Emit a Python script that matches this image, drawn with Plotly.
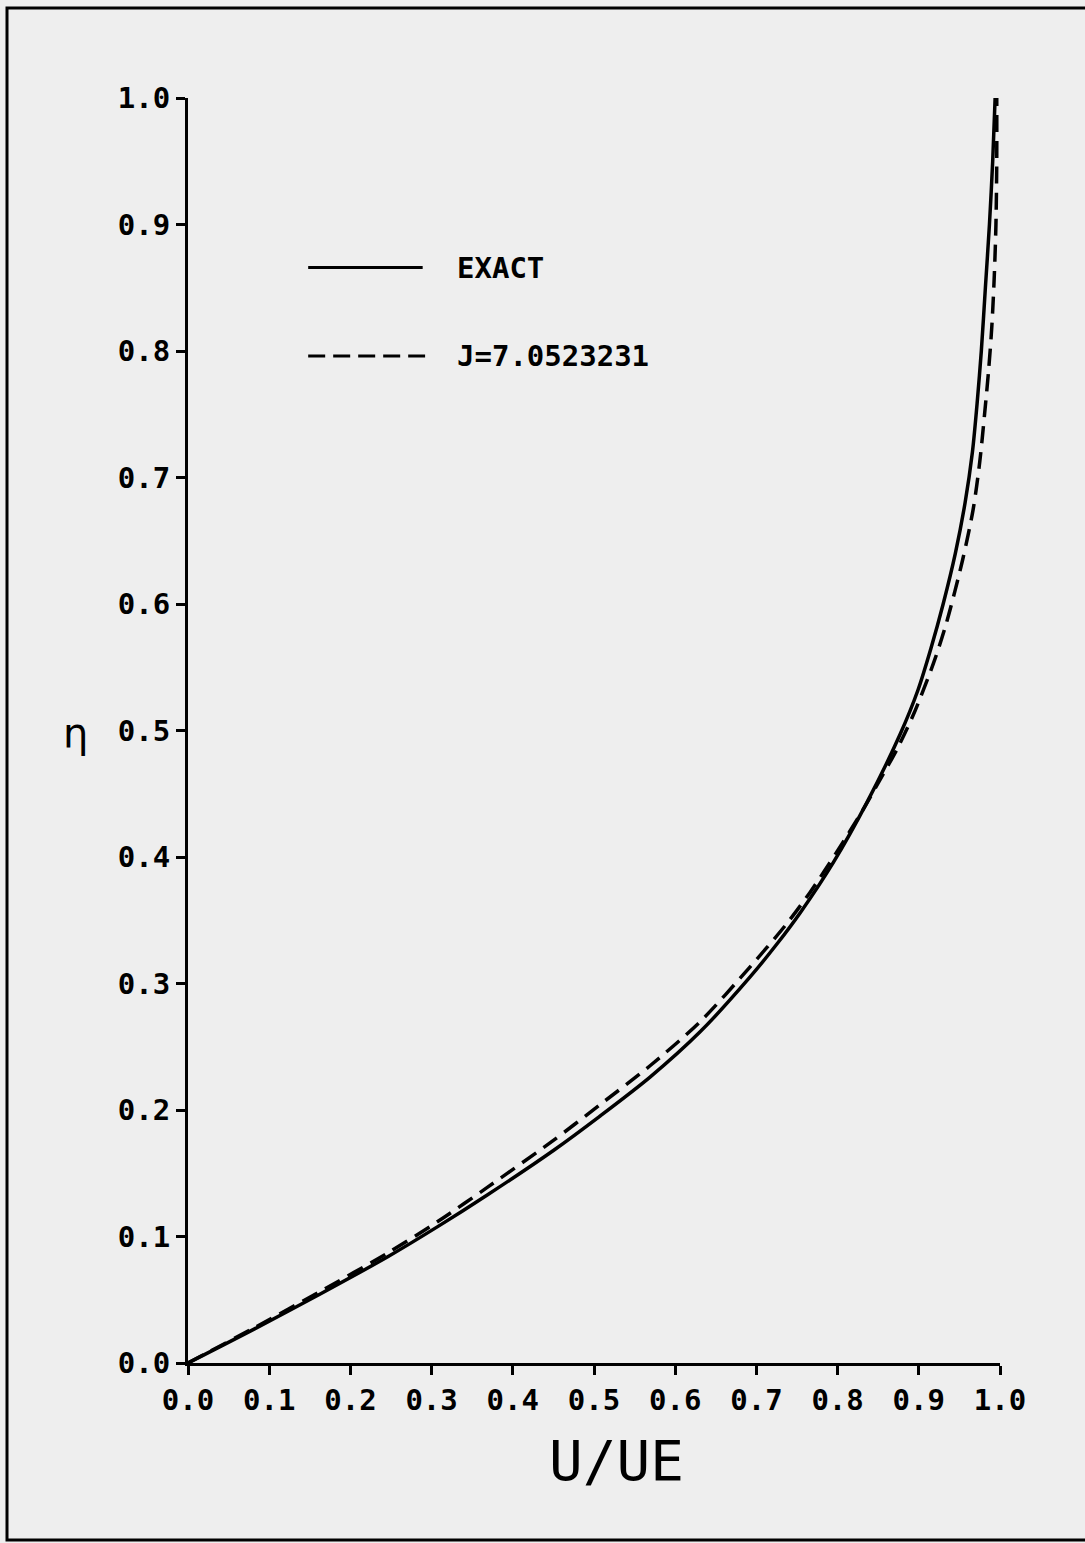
import plotly.graph_objects as go

# Exact profile (solid)
exact_u = [0, 0.082, 0.164, 0.246, 0.308, 0.369, 0.45, 0.507, 0.569, 0.631, 0.692, 0.725,
           0.754, 0.795, 0.836, 0.877, 0.899, 0.915, 0.930, 0.945, 0.957, 0.966, 0.972,
           0.977, 0.982, 0.987, 0.991, 0.994]
exact_eta = [0, 0.027, 0.055, 0.084, 0.108, 0.133, 0.168, 0.195, 0.226, 0.262, 0.305, 0.331,
             0.356, 0.396, 0.443, 0.497, 0.532, 0.565, 0.600, 0.640, 0.680, 0.720, 0.760,
             0.800, 0.850, 0.900, 0.950, 1.0]

# Approximate profile J=7.0523231 (dashed)
approx_u = [0, 0.082, 0.164, 0.246, 0.308, 0.369, 0.45, 0.507, 0.569, 0.631, 0.692, 0.737,
            0.766, 0.80, 0.831, 0.853, 0.873, 0.893, 0.918, 0.934, 0.954, 0.967, 0.975,
            0.981, 0.986, 0.990, 0.993, 0.995, 0.996, 0.996]
approx_eta = [0, 0.028, 0.057, 0.087, 0.112, 0.139, 0.176, 0.204, 0.235, 0.270, 0.313, 0.347,
              0.372, 0.405, 0.437, 0.462, 0.485, 0.512, 0.553, 0.585, 0.635, 0.675, 0.712,
              0.750, 0.785, 0.820, 0.860, 0.900, 0.950, 1.0]

tick_vals = [i / 10 for i in range(11)]
tick_text = ["%.1f" % v for v in tick_vals]

legend_labels = ["EXACT", "J=7.0523231"]

BG = "#eeeeee"
TICKFONT = dict(family="DejaVu Sans Mono", size=29, color="black", weight="bold")

fig = go.Figure()
fig.add_trace(go.Scatter(x=exact_u, y=exact_eta, mode="lines",
                         line=dict(color="black", width=3.5, shape="spline", smoothing=0.8),
                         showlegend=False))
fig.add_trace(go.Scatter(x=approx_u, y=approx_eta, mode="lines",
                         line=dict(color="black", width=3.5, dash="17px,9px",
                                   shape="spline", smoothing=0.8),
                         showlegend=False))

# Legend samples
fig.add_shape(type="line", xref="x", yref="y", x0=0.148, x1=0.289, y0=0.866, y1=0.866,
              line=dict(color="black", width=3))
fig.add_shape(type="line", xref="x", yref="y", x0=0.148, x1=0.292, y0=0.796, y1=0.796,
              line=dict(color="black", width=3, dash="17px,8px"))
fig.add_annotation(x=0.329, y=0.866, xref="x", yref="y", text=legend_labels[0],
                   showarrow=False, xanchor="left", yanchor="middle",
                   font=dict(family="DejaVu Sans Mono", size=29, color="black", weight="bold"))
fig.add_annotation(x=0.329, y=0.796, xref="x", yref="y", text=legend_labels[1],
                   showarrow=False, xanchor="left", yanchor="middle",
                   font=dict(family="DejaVu Sans Mono", size=29, color="black", weight="bold"))

# Axis titles
fig.add_annotation(x=0.528, y=-0.077, xref="paper", yref="paper", text="U/UE",
                   showarrow=False, xanchor="center", yanchor="middle",
                   font=dict(family="DejaVu Sans Mono", size=56, color="black"))
fig.add_annotation(x=-0.139, y=0.498, xref="paper", yref="paper", text="η",
                   showarrow=False, xanchor="center", yanchor="middle",
                   font=dict(family="DejaVu Sans", size=40, color="black"))

# Page frame (right edge runs off the page)
fig.add_shape(type="rect", xref="paper", yref="paper", x0=-0.2229, x1=1.2,
              y0=-0.1399, y1=1.0711, line=dict(color="black", width=3),
              fillcolor="rgba(0,0,0,0)", layer="below")

fig.update_xaxes(range=[0, 1], tickvals=tick_vals, ticktext=tick_text,
                 showline=True, linecolor="black", linewidth=3,
                 ticks="outside", ticklen=9, tickwidth=3, tickcolor="black",
                 showgrid=False, zeroline=False, tickfont=TICKFONT)
fig.update_yaxes(range=[0, 1], tickvals=tick_vals, ticktext=tick_text,
                 showline=True, linecolor="black", linewidth=3,
                 ticks="outside", ticklen=9, tickwidth=3, tickcolor="black",
                 showgrid=False, zeroline=False, tickfont=TICKFONT)

fig.update_layout(width=1085, height=1543,
                  margin=dict(l=188, r=85, t=98, b=180),
                  paper_bgcolor=BG, plot_bgcolor=BG, showlegend=False)

fig.write_html("out.html",
               config={"displayModeBar": False},
               post_script="document.body.style.margin='0';"
                           "document.body.style.overflow='hidden';"
                           "document.body.style.background='#eeeeee';")
